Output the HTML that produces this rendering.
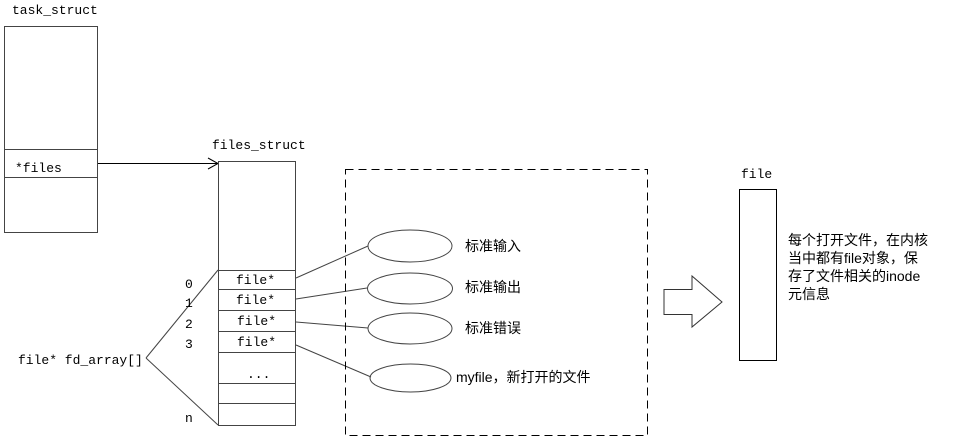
<!DOCTYPE html>
<html><head><meta charset="utf-8"><style>
html,body{margin:0;padding:0;background:#fff;}
svg{display:block;}
text{font-family:"Liberation Mono","Noto Sans CJK SC",monospace;font-size:13px;fill:#000;}
.cn{font-family:"Liberation Sans","Noto Sans CJK SC",sans-serif;font-size:14px;}
</style></head><body>
<svg width="965" height="443" viewBox="0 0 965 443" xmlns="http://www.w3.org/2000/svg">
<g fill="none" stroke="#444" stroke-width="1">
<!-- task_struct -->
<rect x="4.5" y="26.5" width="93" height="206"/>
<line x1="4" y1="149.5" x2="97" y2="149.5"/>
<line x1="4" y1="177.5" x2="97" y2="177.5"/>
<!-- arrow to files_struct -->
<line x1="98" y1="163.5" x2="218" y2="163.5" stroke="#000"/>
<polyline points="208,158 218,163.5 208,169" stroke="#000"/>
<!-- files_struct -->
<rect x="218.5" y="161.5" width="77" height="264"/>
<line x1="218" y1="270.5" x2="295" y2="270.5"/>
<line x1="218" y1="289.5" x2="295" y2="289.5"/>
<line x1="218" y1="310.5" x2="295" y2="310.5"/>
<line x1="218" y1="331.5" x2="295" y2="331.5"/>
<line x1="218" y1="352.5" x2="295" y2="352.5"/>
<line x1="218" y1="383.5" x2="295" y2="383.5"/>
<line x1="218" y1="403.5" x2="295" y2="403.5"/>
<!-- fd_array brackets -->
<line x1="146" y1="358" x2="218" y2="270"/>
<line x1="146" y1="358" x2="218" y2="425"/>
<!-- connectors -->
<line x1="296" y1="278" x2="368" y2="246"/>
<line x1="296" y1="299" x2="367" y2="288"/>
<line x1="296" y1="322" x2="368" y2="328"/>
<line x1="296" y1="345" x2="371" y2="377"/>
<!-- ellipses -->
<ellipse cx="410" cy="246" rx="42" ry="16"/>
<ellipse cx="410" cy="288.5" rx="42.5" ry="15.5"/>
<ellipse cx="410" cy="328.5" rx="42" ry="15.5"/>
<ellipse cx="410.5" cy="378" rx="40.5" ry="14"/>
<!-- dashed box -->
<rect x="345.5" y="169.5" width="302" height="266" stroke="#000" stroke-dasharray="8,5"/>
<!-- block arrow -->
<polygon points="664,289.5 692,289.5 692,276 722,302 692,327 692,314.5 664,314.5" stroke="#333"/>
<!-- file box -->
<rect x="739.5" y="189.5" width="37" height="171" stroke="#000"/>
</g>
<text x="12" y="14">task_struct</text>
<text x="15" y="172">*files</text>
<text x="212" y="149">files_struct</text>
<text x="236" y="284">file*</text>
<text x="236" y="304">file*</text>
<text x="237" y="325">file*</text>
<text x="237" y="346">file*</text>
<text x="247" y="378">...</text>
<text x="185" y="288">0</text>
<text x="185" y="307">1</text>
<text x="185" y="328">2</text>
<text x="185" y="348">3</text>
<text x="185" y="422">n</text>
<text x="18" y="364">file* fd_array[]</text>
<text class="cn" x="465" y="251">标准输入</text>
<text class="cn" x="465" y="292">标准输出</text>
<text class="cn" x="465" y="333">标准错误</text>
<text class="cn" x="456" y="382">myfile，新打开的文件</text>
<text x="741" y="178">file</text>
<text class="cn" x="788" y="245">每个打开文件，在内核</text>
<text class="cn" x="788" y="263">当中都有file对象，保</text>
<text class="cn" x="788" y="281">存了文件相关的inode</text>
<text class="cn" x="788" y="299">元信息</text>
</svg>
</body></html>
